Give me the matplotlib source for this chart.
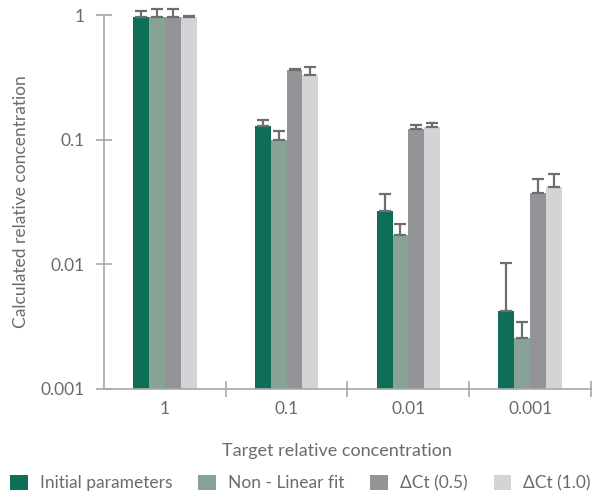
import numpy as np
import matplotlib
matplotlib.use("Agg")
import matplotlib.pyplot as plt
from matplotlib.patches import Patch

plt.rcParams['font.family'] = ['Lato', 'DejaVu Sans']

categories = ["1", "0.1", "0.01", "0.001"]
series_names = ["Initial parameters", "Non - Linear fit", "\u0394Ct (0.5)", "\u0394Ct (1.0)"]

initial_vals = [0.96, 0.129, 0.0268, 0.00423]
initial_upper = [1.07, 0.145, 0.0367, 0.0103]

nonlinear_vals = [0.96, 0.0995, 0.0172, 0.00257]
nonlinear_upper = [1.12, 0.118, 0.0210, 0.00347]

dct05_vals = [0.96, 0.362, 0.122, 0.0374]
dct05_upper = [1.12, 0.369, 0.132, 0.0487]

dct10_vals = [0.96, 0.330, 0.126, 0.0418]
dct10_upper = [0.99, 0.380, 0.137, 0.0531]

values = [initial_vals, nonlinear_vals, dct05_vals, dct10_vals]
uppers = [initial_upper, nonlinear_upper, dct05_upper, dct10_upper]
colors = ["#0f6e58", "#86a396", "#939497", "#d3d4d6"]

text_color = "#6a6b6d"
axis_color = "#a7a8aa"
err_color = "#6d6e70"
fs = 12.5

fig = plt.figure(figsize=(6.01, 4.94), dpi=100)
ax = fig.add_axes([0.173, 0.2126, 0.8104, 0.757])

x = np.arange(len(categories))
bar_w = 0.13
for i, (vals, up, col) in enumerate(zip(values, uppers, colors)):
    pos = x + (i - 1.5) * bar_w
    vals = np.array(vals)
    err = np.array(up) - vals
    ax.bar(pos, vals, width=bar_w, color=col, zorder=2)
    eb = ax.errorbar(pos, vals, yerr=[np.zeros_like(vals), err], fmt="none",
                     ecolor=err_color, elinewidth=1.6, capsize=4, capthick=1.6, zorder=3)
    for art in eb.lines[1] + eb.lines[2]:
        art.set_clip_on(False)

ax.set_yscale("log")
ax.set_ylim(0.001, 1)
ax.set_xlim(-0.5, len(categories) - 0.5)
ax.set_yticks([0.001, 0.01, 0.1, 1])
ax.set_yticklabels(["0.001", "0.01", "0.1", "1"])
ax.yaxis.set_minor_locator(matplotlib.ticker.NullLocator())

ax.set_xticks(x)
ax.set_xticklabels(categories)
ax.set_xticks(np.arange(len(categories)) + 0.5, minor=True)
ax.tick_params(axis="x", which="major", length=0, pad=9, labelsize=fs, labelcolor=text_color)
ax.tick_params(axis="x", which="minor", length=11, direction="inout", color=axis_color, width=1.2)
ax.tick_params(axis="y", which="major", length=12, direction="inout", color=axis_color,
               width=1.2, pad=8, labelsize=fs, labelcolor=text_color)

for s in ["top", "right"]:
    ax.spines[s].set_visible(False)
for s in ["left", "bottom"]:
    ax.spines[s].set_color(axis_color)
    ax.spines[s].set_linewidth(1.2)

ax.set_ylabel("Calculated relative concentration", fontsize=fs, color=text_color, labelpad=8)
fig.text(0.56, 0.088, "Target relative concentration", ha="center", va="center",
         fontsize=fs + 0.5, color=text_color)

handles = [Patch(facecolor=c, edgecolor="none") for c in colors]
fig.legend(handles, series_names, loc="center", bbox_to_anchor=(0.5, 0.022), ncol=4,
           frameon=False, fontsize=fs, labelcolor=text_color, handlelength=1.0,
           handleheight=1.0, handletextpad=0.7, columnspacing=1.5)

fig.savefig("out.png", dpi=100)
